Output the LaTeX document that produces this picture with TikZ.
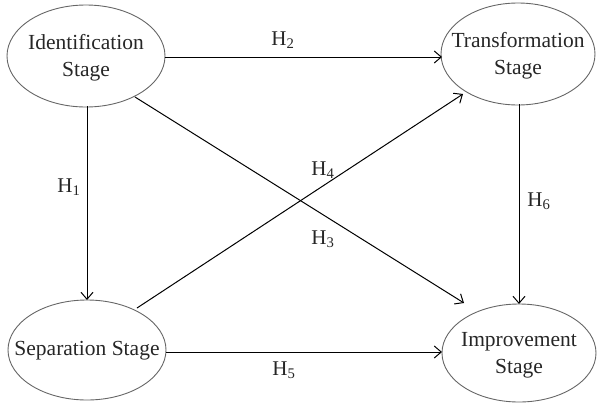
\documentclass[tikz,border=0pt]{standalone}
\usepackage{fontspec}
\setmainfont{Liberation Serif}
\usetikzlibrary{arrows.meta}
\begin{document}
\begin{tikzpicture}[x=1pt,y=-1pt,
  stagebox/.style={draw=black!60, line width=0.9pt},
  stagetext/.style={font=\fontsize{21.5}{27}\selectfont, align=center, text=black!85},
  link/.style={draw=black, line width=1pt, -{Straight Barb[length=7pt,width=12pt,line width=1pt]}},
  hlab/.style={font=\fontsize{21}{24}\selectfont, inner sep=0pt, text=black!85}]
\useasboundingbox (0,0) rectangle (597,402);
\draw[stagebox] (86,56) ellipse [x radius=79, y radius=51];
\draw[stagebox] (518,54) ellipse [x radius=77, y radius=51];
\draw[stagebox] (87,350) ellipse [x radius=79, y radius=50];
\draw[stagebox] (519,353) ellipse [x radius=77, y radius=49];
\node[stagetext] (id) at (86,58) {Identification\\Stage};
\node[stagetext] (tr) at (518,56) {Transformation\\Stage};
\node[stagetext] (se) at (87,351) {Separation Stage};
\node[stagetext] (im) at (519,355) {Improvement\\Stage};
\coordinate (idR) at (165,57);
\coordinate (trL) at (442,57);
\coordinate (idB) at (87,106);
\coordinate (seT) at (87,300);
\coordinate (trB) at (519,104);
\coordinate (imT) at (519,304);
\coordinate (seR) at (166,352);
\coordinate (imL) at (442,352);
\coordinate (idBR) at (135,97);
\coordinate (imTL) at (464,303);
\coordinate (seTR) at (137,308);
\coordinate (trBL) at (463,94);
\draw[link] (idR) -- (trL);
\draw[link] (idB) -- (seT);
\draw[link] (trB) -- (imT);
\draw[link] (seR) -- (imL);
\draw[link] (idBR) -- (imTL);
\draw[link] (seTR) -- (trBL);
\node[hlab] (h2) at (283,40) {H\textsubscript{2}};
\node[hlab] (h1) at (69,187) {H\textsubscript{1}};
\node[hlab] (h6) at (539,201) {H\textsubscript{6}};
\node[hlab] (h5) at (284,370) {H\textsubscript{5}};
\node[hlab] (h4) at (323,170) {H\textsubscript{4}};
\node[hlab] (h3) at (323,239) {H\textsubscript{3}};
\end{tikzpicture}
\end{document}
